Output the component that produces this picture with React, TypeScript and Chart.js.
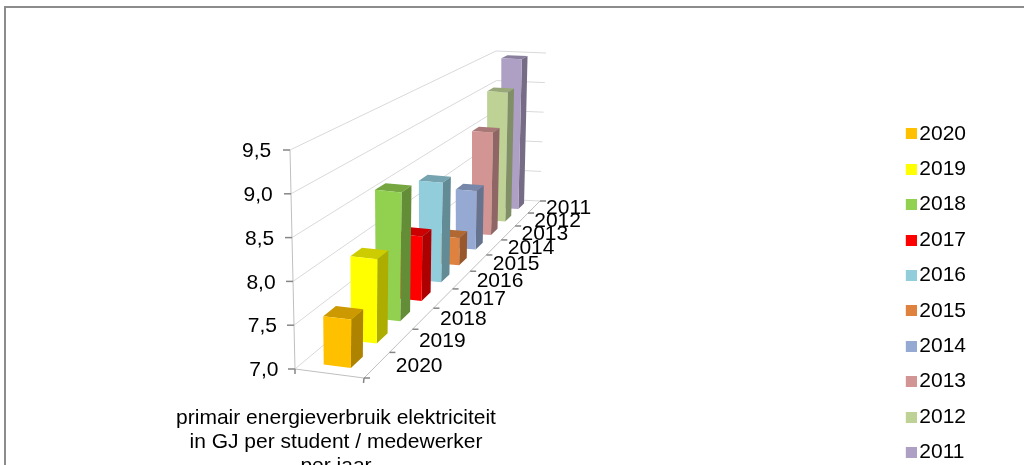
import { useEffect, useRef } from "react";
import { Chart, registerables } from "chart.js";

Chart.register(...registerables);

// Primary electricity use per student / employee, front row first.
const years = ["2020", "2019", "2018", "2017", "2016", "2015", "2014", "2013", "2012", "2011"];
const usage = [7.56, 8.02, 8.63, 7.85, 8.37, 7.39, 7.87, 8.58, 9.06, 9.47];
const colors = ["#FFC000", "#FFFF00", "#92D050", "#FF0000", "#92CDDC", "#DF8240", "#95A9D3", "#D29594", "#BED296", "#AE9FC5"];
const axisTitle = ["primair energieverbruik elektriciteit", "in GJ per student / medewerker", "per jaar"];

const FONT = '"Liberation Sans", Arial, sans-serif';
const GRID = "#d9d9d9";
const AXIS = "#868686";

// Screen positions of the eight corners of the plot box: [left, right] per edge.
const FLOOR_FRONT = [[295, 369], [364, 378]];
const FLOOR_BACK = [[498, 199], [540, 201]];
const ROOF_FRONT = [[290, 150], [368, 158]];
const ROOF_BACK = [[496, 51], [546, 53]];
const DEPTH_PERSPECTIVE = 0.52;
const BAR_LEFT = 0.3;
const BAR_RIGHT = 0.7;

const mix = (a: number, b: number, t: number) => a + (b - a) * t;

function project(w: number, h: number, d: number): [number, number] {
  const t = ((1 + DEPTH_PERSPECTIVE) * d) / (1 + DEPTH_PERSPECTIVE * d);
  const at = (axis: number) => {
    const floor = mix(
      mix(FLOOR_FRONT[0][axis], FLOOR_FRONT[1][axis], w),
      mix(FLOOR_BACK[0][axis], FLOOR_BACK[1][axis], w),
      t
    );
    const roof = mix(
      mix(ROOF_FRONT[0][axis], ROOF_FRONT[1][axis], w),
      mix(ROOF_BACK[0][axis], ROOF_BACK[1][axis], w),
      t
    );
    return mix(floor, roof, h);
  };
  return [at(0), at(1)];
}

function shade(hex: string, k: number) {
  const n = parseInt(hex.slice(1), 16);
  const c = [(n >> 16) & 255, (n >> 8) & 255, n & 255].map((v) => Math.round(v * k));
  return `rgb(${c[0]},${c[1]},${c[2]})`;
}

function polyline(ctx: CanvasRenderingContext2D, pts: [number, number][], color: string, width = 1) {
  ctx.beginPath();
  pts.forEach((p, i) => (i ? ctx.lineTo(p[0], p[1]) : ctx.moveTo(p[0], p[1])));
  ctx.strokeStyle = color;
  ctx.lineWidth = width;
  ctx.stroke();
}

function face(ctx: CanvasRenderingContext2D, pts: [number, number][], color: string) {
  ctx.beginPath();
  pts.forEach((p, i) => (i ? ctx.lineTo(p[0], p[1]) : ctx.moveTo(p[0], p[1])));
  ctx.closePath();
  ctx.fillStyle = color;
  ctx.fill();
}

// Legend swatch: the transparent left part moves the square clear of the label gap.
function swatch(color: string) {
  const c = document.createElement("canvas");
  c.width = 19;
  c.height = 11;
  const g = c.getContext("2d")!;
  g.fillStyle = color;
  g.fillRect(8, 0, 11, 11);
  return c;
}

const depthOf = (x: any, px: number) => (px - x.left) / x.width;
const heightOf = (y: any, px: number) => (y.bottom - px) / y.height;

const box3d = {
  id: "box3d",
  afterLayout(chart: any) {
    const { legend, titleBlock } = chart;
    legend.top = 109;
    legend.bottom = 520;
    titleBlock.left = 176;
    titleBlock.right = 496;
    titleBlock.top = 406;
    titleBlock.bottom = 482;
  },
  beforeDraw(chart: any) {
    const { ctx, width } = chart;
    polyline(ctx, [[5, 465], [5, 7], [width, 7]], "#8c8c8c", 2);
  },
  beforeDatasetsDraw(chart: any) {
    const { ctx, scales } = chart;
    const { x, y } = scales;
    // Walls and value gridlines.
    y.ticks.forEach((tick: any) => {
      const h = heightOf(y, y.getPixelForValue(tick.value));
      polyline(ctx, [project(0, h, 0), project(0, h, 1), project(1, h, 1)], GRID);
    });
    polyline(ctx, [project(0, 0, 0), project(0, 1, 0)], "#bfbfbf");
    polyline(ctx, [project(0, 0, 0), project(1, 0, 0), project(1, 0, 1)], "#bfbfbf");

    // Value ticks and labels on the front corner.
    ctx.font = `21px ${FONT}`;
    ctx.fillStyle = "#000";
    ctx.textAlign = "right";
    ctx.textBaseline = "middle";
    y.ticks.forEach((tick: any) => {
      const h = heightOf(y, y.getPixelForValue(tick.value));
      const [ax, ay] = project(0, h, 0);
      polyline(ctx, [[ax - 7, ay], [ax, ay]], AXIS, 1.5);
      ctx.fillText(tick.label, project(-0.24, h, 0)[0], ay + 1.5);
    });
    polyline(ctx, [project(0, 0, 0), [295, 374]], AXIS, 1.5);
    polyline(ctx, [project(1, 0, 0), [363.5, 383]], AXIS, 1.5);

    // Depth ticks between the years.
    const step = x.getPixelForValue(1) - x.getPixelForValue(0);
    for (let i = 0; i <= years.length; i++) {
      const d = depthOf(x, x.getPixelForValue(0) + (i - 0.5) * step);
      const [tx, ty] = project(1, 0, d);
      polyline(ctx, [[tx, ty], [tx + 6, ty]], AXIS, 1.5);
    }
  },
  beforeDatasetDraw(chart: any, args: any) {
    const { ctx, scales } = chart;
    const { x, y } = scales;
    const bars = args.meta.data;
    const fills = args.meta.controller.getDataset().backgroundColor;
    // Back row first so nearer boxes cover the ones behind them.
    for (let i = bars.length - 1; i >= 0; i--) {
      const bar = bars[i];
      const props = bar.getProps(["x", "y", "width"], true);
      const h = heightOf(y, props.y);
      const d0 = depthOf(x, props.x - props.width / 2);
      const d1 = depthOf(x, props.x + props.width / 2);
      const a = BAR_LEFT;
      const b = BAR_RIGHT;
      face(ctx, [project(a, h, d0), project(b, h, d0), project(b, h, d1), project(a, h, d1)], shade(fills[i], 0.8));
      face(ctx, [project(b, 0, d0), project(b, h, d0), project(b, h, d1), project(b, 0, d1)], shade(fills[i], 0.68));
      face(ctx, [project(a, 0, d0), project(b, 0, d0), project(b, h, d0), project(a, h, d0)], fills[i]);
    }
    return false;
  },
  afterDatasetsDraw(chart: any) {
    const { ctx, scales } = chart;
    const { x } = scales;
    ctx.font = `21px ${FONT}`;
    ctx.fillStyle = "#000";
    ctx.textAlign = "left";
    ctx.textBaseline = "middle";
    years.forEach((_, i) => {
      const d = depthOf(x, x.getPixelForValue(i));
      const [lx, ly] = project(1.28, 0, d);
      ctx.fillText(x.getLabelForValue(i), lx, ly + 1 - 2.5 * (1 - d));
    });
  },
};

export default function App() {
  const ref = useRef<HTMLCanvasElement>(null);
  useEffect(() => {
    document.body.style.margin = "0";
    document.body.style.background = "#fff";
    const chart = new Chart(ref.current!, {
      type: "bar",
      data: {
        labels: years,
        datasets: [
          {
            label: "primair energieverbruik",
            data: usage,
            backgroundColor: colors,
            categoryPercentage: 1,
            barPercentage: 0.45,
          },
        ],
      },
      options: {
        responsive: false,
        animation: false,
        layout: { padding: { right: 48 } },
        scales: {
          x: { display: true, grid: { display: false }, border: { display: false }, ticks: { display: false } },
          y: {
            min: 7,
            max: 9.5,
            grid: { display: false },
            border: { display: false },
            ticks: {
              display: false,
              stepSize: 0.5,
              callback: (v: any) => Number(v).toFixed(1).replace(".", ","),
            },
          },
        },
        plugins: {
          tooltip: { enabled: false },
          title: {
            display: true,
            position: "bottom",
            fullSize: false,
            text: axisTitle,
            color: "#000",
            font: { family: FONT, size: 21, weight: "normal", lineHeight: 1.14 },
            padding: 0,
          },
          legend: {
            position: "right",
            align: "start",
            labels: {
              color: "#000",
              font: { family: FONT, size: 21 },
              boxWidth: 3,
              boxHeight: 11,
              padding: 14.4,
              usePointStyle: true,
              generateLabels: () =>
                years.map((year, i) => ({
                  text: year,
                  fillStyle: colors[i],
                  strokeStyle: colors[i],
                  lineWidth: 0,
                  pointStyle: swatch(colors[i]),
                  datasetIndex: 0,
                  index: i,
                })),
            },
          },
        },
      } as any,
      plugins: [box3d],
    });
    return () => chart.destroy();
  }, []);
  return (
    <div style={{ width: 1024, height: 465, overflow: "hidden" }}>
      <canvas ref={ref} width={1024} height={465} style={{ display: "block" }} />
    </div>
  );
}
